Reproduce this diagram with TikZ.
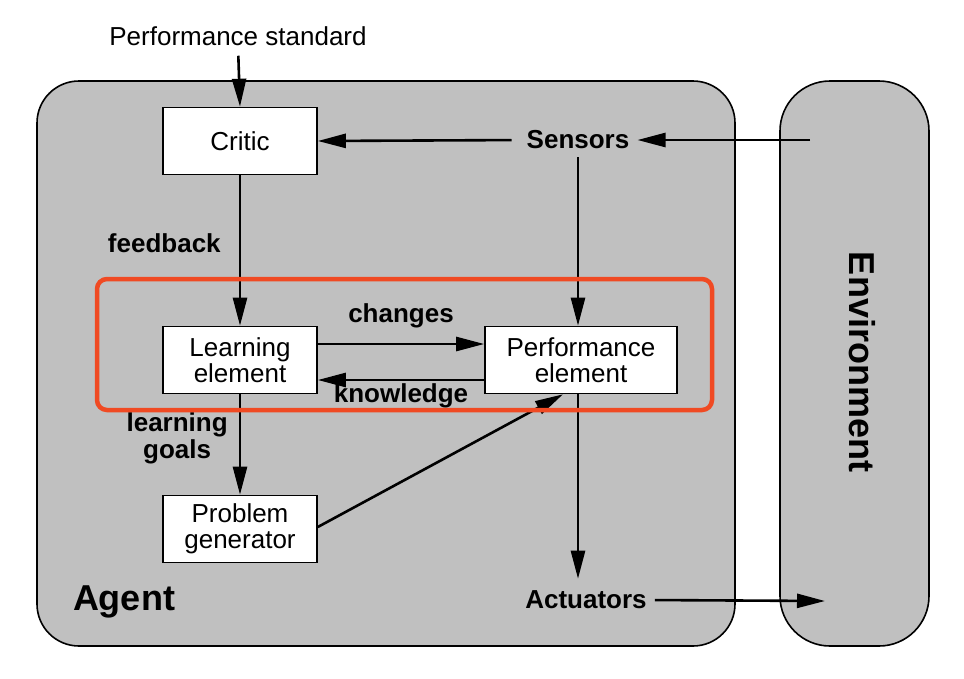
\documentclass[tikz,border=0pt]{standalone}
\usepackage{fontspec}
\setmainfont{Liberation Sans}
\usetikzlibrary{arrows.meta}
\definecolor{agentgray}{RGB}{192,192,192}
\definecolor{hilite}{RGB}{240,74,35}

\begin{document}
\begin{tikzpicture}[x=1pt,y=-1pt,
  every node/.style={font=\fontsize{26}{26}\selectfont},
  unit/.style={draw, fill=white, line width=1.6pt, minimum width=154pt,
    minimum height=67pt, align=center, inner sep=0pt},
  lbl/.style={font=\fontsize{26}{27}\selectfont\bfseries, inner sep=0pt, align=center},
  biglbl/.style={font=\fontsize{36}{36}\selectfont\bfseries, inner sep=0pt},
  flow/.style={line width=2.6pt, -{Triangle[length=28pt,width=14pt]}},
  region/.style={draw, fill=agentgray, line width=1.6pt}
]
\useasboundingbox (0,0) rectangle (964,678);

% agent and environment regions
\draw[region, rounded corners=42pt] (37,81) rectangle (735,646);
\draw[region, rounded corners=50pt] (780,81) rectangle (929,646);

% components
\node[unit] (critic) at (240,141) {Critic};
\node[unit] (learn) at (240,360) {Learning\\element};
\node[unit, minimum width=192pt] (perf) at (581,360) {Performance\\element};
\node[unit] (probgen) at (240,529) {Problem\\generator};

\node[inner sep=0pt] (std) at (238,36) {Performance standard};
\node[lbl] (sensors) at (578,140) {Sensors};
\node[lbl] (actuators) at (586,600) {Actuators};
\node[biglbl] (agent) at (124,602) {Agent};
\node[biglbl, rotate=-90] (env) at (862,362) {Environment};

\coordinate (envin) at (810,140);
\coordinate (envout) at (825,601);

% connectors
\draw[flow, shorten <=10pt] (std.south) -- (critic.north);
\draw[flow] (envin) -- ([xshift=8pt]sensors.east);
\draw[flow, shorten <=15pt] (sensors.west) -- (critic.east);
\draw[flow, shorten <=8pt] (sensors.south) -- (sensors.south |- perf.north);
\draw[flow] (critic) -- node[lbl, pos=0.45, left=18pt] (fb) {feedback} (learn);
\draw[flow] ([yshift=16pt]learn.east) -- node[lbl, above=15pt] (chg) {changes} ([yshift=16pt]perf.west);
\draw[flow] ([yshift=-20pt]perf.west) -- node[lbl, below=2pt] (knw) {knowledge} ([yshift=-20pt]learn.east);
\draw[flow] (learn) -- node[lbl, pos=0.44, left=11pt] (lg) {learning\\goals} (probgen);
\draw[flow] ([yshift=2pt]probgen.east) -- ([xshift=-18pt]perf.south);
\draw[flow, shorten >=12pt] (sensors.south |- perf.south) -- (sensors.south |- actuators.north);
\draw[flow, shorten <=8pt] (actuators.east) -- (envout);

% highlighted learning loop
\draw[hilite, line width=4.5pt, rounded corners=10pt] (97,279) rectangle (712,410);
\end{tikzpicture}
\end{document}
